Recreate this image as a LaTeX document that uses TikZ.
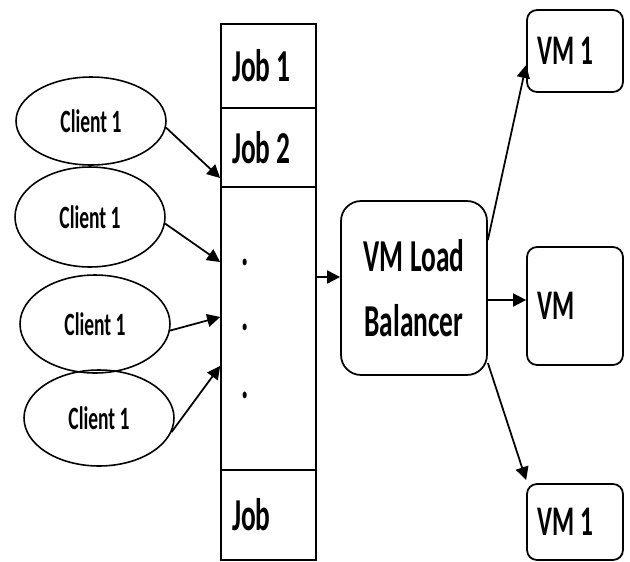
\documentclass[tikz,border=0pt]{standalone}
\usepackage{fontspec}
\setmainfont{Carlito}[FakeStretch=0.6]
\usetikzlibrary{shapes.geometric,arrows.meta}
\newcommand{\jobfont}{\fontsize{26}{37}\selectfont\bfseries}
\newcommand{\clientfont}{\fontsize{18.5}{20}\selectfont\bfseries}

\begin{document}
\begin{tikzpicture}[x=0.02cm,y=-0.02cm]
	\tikzset{client/.style={ellipse,draw,line width=0.9pt,inner sep=0pt,minimum width=3cm,font=\clientfont}}
	\tikzset{slot/.style={rectangle,draw,line width=1pt,text width=1.46cm,inner xsep=0.22cm,inner ysep=0pt,align=flush left,font=\jobfont}}
	\tikzset{vmbox/.style={rectangle,rounded corners=0.2cm,draw,line width=1pt,text width=1.5cm,inner xsep=0.21cm,inner ysep=0pt,align=flush left,font=\jobfont\fontsize{24}{30}\selectfont}}
	\tikzset{arr/.style={-{Triangle[length=0.26cm,width=0.26cm]},line width=1pt}}
	\useasboundingbox (0,0) rectangle (630,562);
	% clients
	\node[client,minimum height=1.76cm] (c1) at (91,121) {Client 1};
	\node[client,minimum height=2.0cm] (c2) at (90,217) {Client 1};
	\node[client,minimum height=1.96cm] (c3) at (95,324) {Client 1};
	\node[client,minimum height=1.92cm] (c4) at (99,418) {Client 1};
	% job queue
	\node[slot,minimum height=1.68cm] (j1) at (268.5,66) {Job 1};
	\node[slot,minimum height=1.58cm] (j2) at (268.5,147.5) {Job 2};
	\node[slot,minimum height=5.66cm] (jmid) at (268.5,328.5) {};
	\node[slot,minimum height=1.8cm] (jn) at (268.5,515) {Job};
	\node[font=\jobfont,anchor=base,inner sep=0pt] (d1) at (245,265) {.};
	\node[font=\jobfont,anchor=base,inner sep=0pt] (d2) at (245,330) {.};
	\node[font=\jobfont,anchor=base,inner sep=0pt] (d3) at (245,398) {.};
	% balancer and machines
	\node[rectangle,rounded corners=0.4cm,draw,line width=1pt,minimum width=2.92cm,minimum height=3.48cm,align=center,font=\jobfont] (lb) at (414,288) {VM Load\\Balancer};
	\node[vmbox,minimum height=1.64cm] (vm1) at (575,51) {VM 1};
	\node[vmbox,minimum height=2.36cm] (vm2) at (575,306) {VM};
	\node[vmbox,minimum height=1.52cm] (vm3) at (575,522) {VM 1};
	% connectors
	\draw[arr] (c1.-5) -- (j2.west |- 0,178);
	\draw[arr] (c2.-5) -- (jmid.west |- 0,262);
	\draw[arr] (c3.-5) -- (jmid.west |- 0,317);
	\draw[arr] (c4.-11) -- (jmid.west |- 0,366);
	\draw[arr] (jmid.east |- 0,277) -- (lb.west |- 0,277);
	\draw[arr] (lb.east |- 0,240) -- (vm1.west |- 0,65);
	\draw[arr] (lb.east |- 0,300) -- (vm2.west |- 0,300);
	\draw[arr] (lb.east |- 0,363) -- (vm3.west |- 0,480);
\end{tikzpicture}
\end{document}
